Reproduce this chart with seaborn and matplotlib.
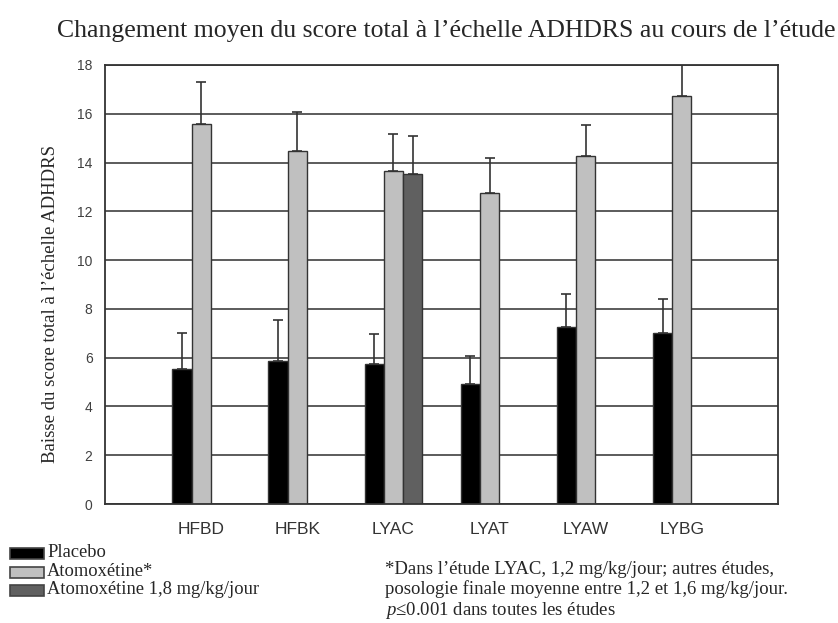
import numpy as np
import pandas as pd
import seaborn as sns
import matplotlib.pyplot as plt
from matplotlib.patches import Rectangle

# values
studies = ["HFBD", "HFBK", "LYAC", "LYAT", "LYAW", "LYBG"]
placebo = [5.55, 5.85, 5.75, 4.92, 7.25, 7.03]
placebo_err = [1.47, 1.70, 1.20, 1.16, 1.35, 1.37]
atomox = [15.58, 14.47, 13.65, 12.77, 14.27, 16.74]
atomox_err = [1.74, 1.61, 1.52, 1.40, 1.25, 1.40]
# only LYAC had a 1.8 mg/kg/day arm
high_dose = {"LYAC": 13.52}
high_dose_err = {"LYAC": 1.58}

groups = ["Placebo", "Atomoxétine*", "Atomoxétine 1,8 mg/kg/jour"]
colors = ["#000000", "#c0c0c0", "#606060"]
bar_w = 0.2

rows = []
for i, s in enumerate(studies, start=1):
    rows.append((i - bar_w, placebo[i - 1], placebo_err[i - 1], groups[0]))
    rows.append((i, atomox[i - 1], atomox_err[i - 1], groups[1]))
    if s in high_dose:
        rows.append((i + bar_w, high_dose[s], high_dose_err[s], groups[2]))
df = pd.DataFrame(rows, columns=["pos", "value", "err", "group"])
df["pos"] = df["pos"].round(3)

sns.set_style("white")
plt.rcParams["mathtext.fontset"] = "custom"
plt.rcParams["mathtext.it"] = "Liberation Serif:italic"
plt.rcParams["mathtext.rm"] = "Liberation Serif"

fig = plt.figure(figsize=(8.38, 6.23), dpi=100)
ax = fig.add_axes([0.1253, 0.191, 0.8031, 0.7047])

sns.barplot(data=df, x="pos", y="value", hue="group", hue_order=groups,
            palette=colors, native_scale=True, dodge=False, width=1.0,
            errorbar=None, edgecolor="#333333", linewidth=1.0,
            legend=False, ax=ax)

ax.errorbar(df["pos"], df["value"], yerr=[np.zeros(len(df)), df["err"]],
            fmt="none", ecolor="#333333", elinewidth=1.2, capsize=3.5,
            capthick=1.2, zorder=1)

ax.set_xlim(0, 7)
ax.set_ylim(0, 18)
ax.set_yticks(np.arange(0, 19, 2))
ax.set_xticks(range(1, len(studies) + 1))
ax.set_xticklabels(studies, fontfamily="Liberation Sans", fontsize=12.5, color="#333333")
for lab in ax.get_yticklabels():
    lab.set_fontfamily("Liberation Sans")
    lab.set_fontsize(10)
    lab.set_color("#404040")
ax.tick_params(axis="y", direction="out", length=5, width=1.2, color="#333333", pad=4)
ax.tick_params(axis="x", direction="out", length=3, width=1.2, color="#333333", pad=10)
ax.yaxis.grid(True, color="#404040", linewidth=1.2)
ax.set_axisbelow(True)
for sp in ax.spines.values():
    sp.set_color("#333333")
    sp.set_linewidth(1.3)

ax.set_xlabel("")
ax.set_ylabel("Baisse du score total à l’échelle ADHDRS",
              fontfamily="Liberation Serif", fontsize=13.5)
ax.yaxis.set_label_coords(-0.069, 0.455)

fig.text(0.532, 0.95, "Changement moyen du score total à l’échelle ADHDRS au cours de l’étude",
         ha="center", va="center", fontfamily="Liberation Serif", fontsize=18.5)

# legend drawn by hand below the axes (tight rows as in the original)
W, H = 838, 623
for k, (g, c) in enumerate(zip(groups, colors)):
    yc = 553.5 + k * 18.5
    fig.add_artist(Rectangle((10 / W, 1 - (yc + 5.5) / H), 34 / W, 11 / H,
                             transform=fig.transFigure, facecolor=c,
                             edgecolor="#444444", linewidth=1.2))
    fig.text(47 / W, 1 - (yc - 1) / H, g, ha="left", va="center",
             fontfamily="Liberation Serif", fontsize=13.3)

note = ("*Dans l’étude LYAC, 1,2 mg/kg/jour; autres études,\n"
        "posologie finale moyenne entre 1,2 et 1,6 mg/kg/jour.\n"
        "$\\it{p}$≤0.001 dans toutes les études")
fig.text(385 / W, 1 - 591 / H, note, ha="left", va="center", fontfamily="Liberation Serif",
         fontsize=13.5, linespacing=1.17)

fig.savefig("out.png", dpi=100)
